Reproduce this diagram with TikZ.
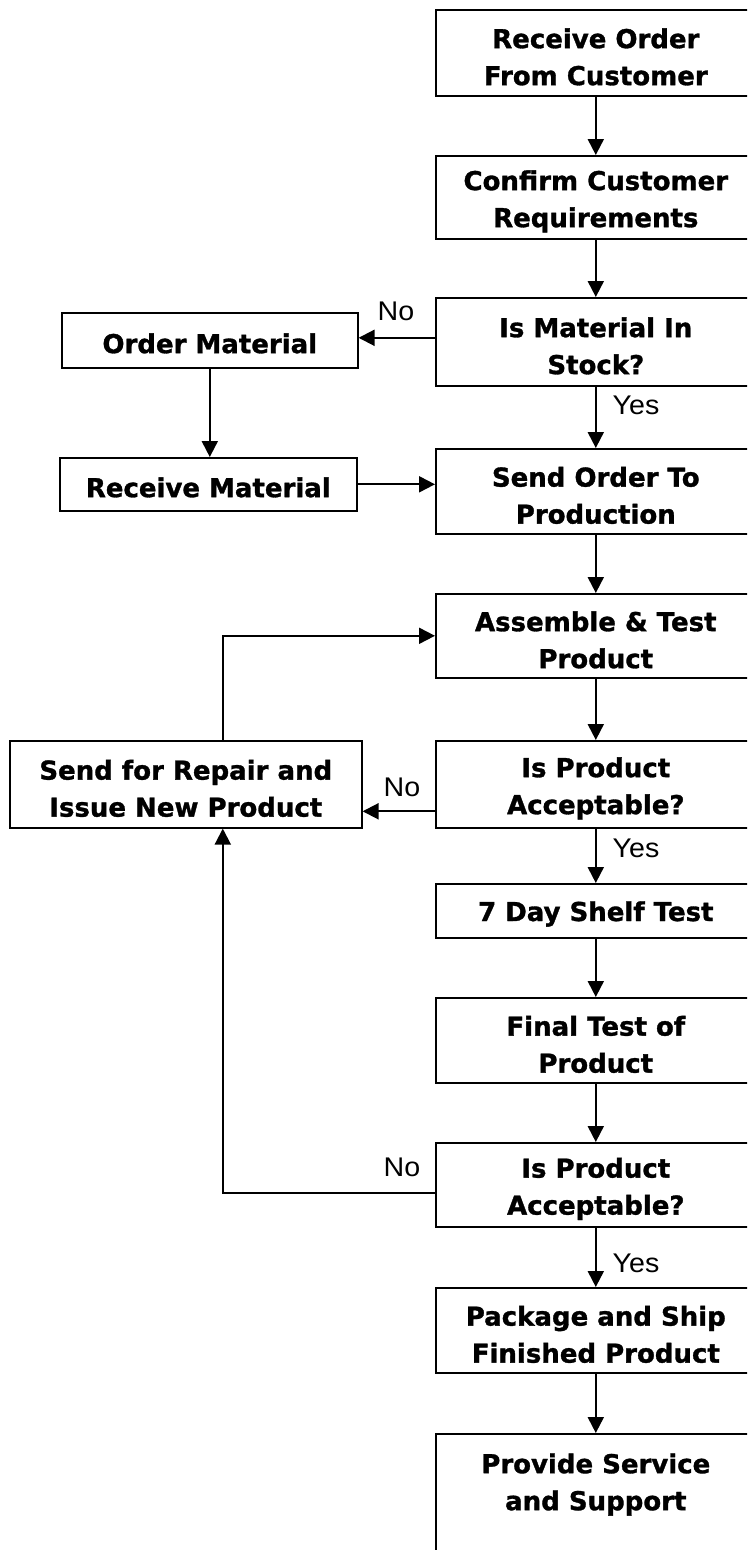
\documentclass[tikz,border=0pt]{standalone}
\usepackage{fontspec}
\usepackage{tikz}
\usetikzlibrary{arrows.meta}
\newfontfamily\boxfont[BoldFeatures={FakeBold=1.2}]{DejaVu Sans}
\newfontfamily\labelfont[FakeStretch=1.06]{Liberation Sans}

\begin{document}
\begin{tikzpicture}[x=1pt, y=-1pt,
	stepbox/.style={draw, line width=1.6pt, anchor=north west, inner sep=0pt, align=center,
		font=\boxfont\bfseries\fontsize{26}{37}\selectfont},
	oneline/.style={stepbox, execute at begin node={\rule{0pt}{26pt}}},
	twoline/.style={stepbox, text height=65pt},
	flow/.style={-{Triangle[length=16pt,width=16pt]}, line width=2pt},
	answer/.style={font=\labelfont\fontsize{27}{30}\selectfont, inner sep=0pt}]
	\useasboundingbox (0,0) rectangle (747,1550);
	\clip (0,0) rectangle (747,1550);
	% main column
	\node[twoline, minimum width=320, minimum height=86] (receive) at (435,9) {Receive Order\\From Customer};
	\node[twoline, minimum width=320, minimum height=83] (confirm) at (435,155) {Confirm Customer\\Requirements};
	\node[twoline, minimum width=320, minimum height=88] (stock) at (435,297) {Is Material In\\Stock?};
	\node[twoline, minimum width=320, minimum height=85] (send) at (435,448) {Send Order To\\Production};
	\node[twoline, minimum width=320, minimum height=84] (assemble) at (435,593) {Assemble \& Test\\Product};
	\node[twoline, minimum width=320, minimum height=87] (accept1) at (435,740) {Is Product\\Acceptable?};
	\node[oneline, minimum width=320, minimum height=54] (shelf) at (435,883) {7 Day Shelf Test};
	\node[twoline, minimum width=320, minimum height=85] (final) at (435,997) {Final Test of\\Product};
	\node[twoline, minimum width=320, minimum height=84] (accept2) at (435,1142) {Is Product\\Acceptable?};
	\node[twoline, minimum width=320, minimum height=85] (ship) at (435,1287) {Package and Ship\\Finished Product};
	\node[stepbox, minimum width=320, minimum height=150, text depth=54pt] (service) at (435,1433) {Provide Service\\and Support};
	% side boxes
	\node[oneline, minimum width=296, minimum height=55] (ordermat) at (61,312) {Order Material};
	\node[oneline, minimum width=297, minimum height=53] (receivemat) at (59,457) {Receive Material};
	\node[twoline, minimum width=352, minimum height=87] (repair) at (9,740) {Send for Repair and\\Issue New Product};
	% answers
	\node[answer] (no1) at (396,311) {No};
	\node[answer] (yes1) at (636,405) {Yes};
	\node[answer] (no2) at (402,787) {No};
	\node[answer] (yes2) at (636,848) {Yes};
	\node[answer] (no3) at (402,1167) {No};
	\node[answer] (yes3) at (636,1263) {Yes};
	% connectors
	\draw[flow] (receive.south) -- (confirm.north);
	\draw[flow] (confirm.south) -- (stock.north);
	\draw[flow] (stock.south) -- (send.north);
	\draw[flow] ([yshift=4pt]stock.west) -- ([yshift=4pt]stock.west -| ordermat.east);
	\draw[flow] (ordermat.south) -- (ordermat.south |- receivemat.north);
	\draw[flow] (receivemat.east) -- (receivemat.east -| send.west);
	\draw[flow] (send.south) -- (assemble.north);
	\draw[flow] (assemble.south) -- (accept1.north);
	\draw[flow] ([yshift=-27pt]accept1.west) -- ([yshift=-27pt]accept1.west -| repair.east);
	\draw[flow] ([xshift=37pt]repair.north) |- (assemble.west);
	\draw[flow] (accept1.south) -- (shelf.north);
	\draw[flow] (shelf.south) -- (final.north);
	\draw[flow] (final.south) -- (accept2.north);
	\draw[flow] ([yshift=-8pt]accept2.west) -| ([xshift=37pt]repair.south);
	\draw[flow] (accept2.south) -- (ship.north);
	\draw[flow] (ship.south) -- (service.north);
\end{tikzpicture}
\end{document}
